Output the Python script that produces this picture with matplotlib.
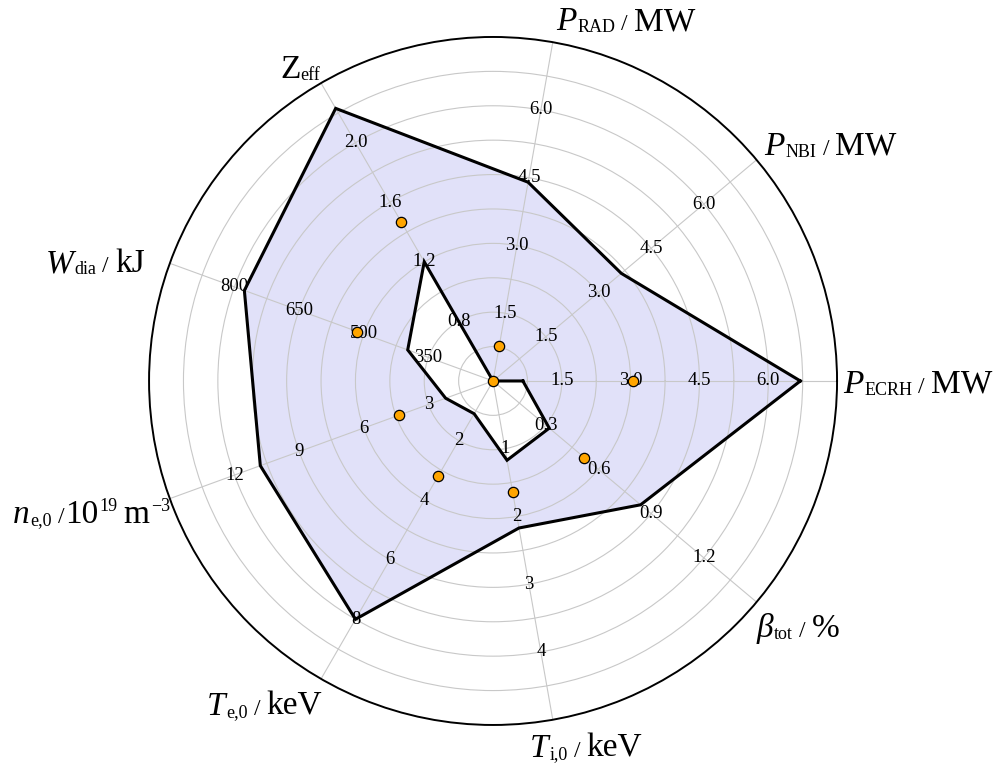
import numpy as np
import matplotlib
matplotlib.use('Agg')
import matplotlib.pyplot as plt
import matplotlib.transforms as mtransforms
from matplotlib.path import Path
from matplotlib.patches import PathPatch

plt.rcParams['font.family'] = ['Liberation Serif', 'DejaVu Serif']

# spoke titles, counter-clockwise starting on the right
# each part: text, italic?, kind (main / sub / sup / slash), gap before it
titles = [
    [('P', True, 'main', 0), ('ECRH', False, 'sub', 1), ('/', False, 'slash', 6), ('MW', False, 'main', 6)],
    [('P', True, 'main', 0), ('NBI', False, 'sub', 1), ('/', False, 'slash', 6), ('MW', False, 'main', 6)],
    [('P', True, 'main', 0), ('RAD', False, 'sub', 1), ('/', False, 'slash', 6), ('MW', False, 'main', 6)],
    [('Z', False, 'main', 0), ('eff', False, 'sub', 0)],
    [('W', True, 'main', 0), ('dia', False, 'sub', 1), ('/', False, 'slash', 6), ('kJ', False, 'main', 6)],
    [('n', True, 'main', 0), ('e,0', False, 'sub', 1), ('/', False, 'slash', 6), ('10', False, 'main', 1),
     ('19', False, 'sup', 1), ('m', False, 'main', 6), ('\u22123', False, 'sup', 1)],
    [('T', True, 'main', 0), ('e,0', False, 'sub', 1), ('/', False, 'slash', 6), ('keV', False, 'main', 6)],
    [('T', True, 'main', 0), ('i,0', False, 'sub', 1), ('/', False, 'slash', 6), ('keV', False, 'main', 6)],
    [('\u03b2', True, 'main', 0), ('tot', False, 'sub', 1), ('/', False, 'slash', 6), ('%', False, 'main', 6)],
]

# scale of every spoke (centre, rim)
lo = [0, 0, 0, 0.4, 200, 0, 0, 0, 0]
hi = [7.5, 7.5, 7.5, 2.4, 950, 15, 10, 5, 1.5]

ticks = [[1.5, 3.0, 4.5, 6.0],
         [1.5, 3.0, 4.5, 6.0],
         [1.5, 3.0, 4.5, 6.0],
         [0.8, 1.2, 1.6, 2.0],
         [350, 500, 650, 800],
         [3, 6, 9, 12],
         [2, 4, 6, 8],
         [1, 2, 3, 4],
         [0.3, 0.6, 0.9, 1.2]]
tick_fmt = ['{:.1f}', '{:.1f}', '{:.1f}', '{:.1f}', '{:.0f}',
            '{:.0f}', '{:.0f}', '{:.0f}', '{:.1f}']

# operating range: upper and lower envelope, plus reference shot
v_max = [6.7, 3.65, 4.4, 2.23, 777, 10.8, 8.0, 2.17, 0.84]
v_min = [0.65, 0.0, 0.0, 1.2, 398, 2.2, 1.1, 1.17, 0.32]
v_ref = [3.05, 0.0, 0.77, 1.47, 515, 4.35, 3.2, 1.64, 0.52]

# title placement: alignment and pixel offset (right, down) from the rim
title_pos = [('left', 6, 12), ('left', 8, -5), ('left', 3, -12),
             ('left', -41, -5), ('right', -25, 9), ('right', 0, 24),
             ('right', 1, 36), ('left', -23, 37), ('left', 0, 35)]

sizes = {'main': 24, 'sub': 13, 'sup': 13, 'slash': 17}
rises = {'main': 0, 'sub': -2, 'sup': 12, 'slash': 0}

R = 10.0
n = len(titles)
theta = np.deg2rad(np.arange(n) * 360.0 / n)


def scale(vals):
    vals = np.asarray(vals, dtype=float)
    return R * (vals - np.array(lo)) / (np.array(hi) - np.array(lo))


fig = plt.figure(figsize=(10.05, 7.67), dpi=100)
ax = fig.add_axes([0.1483, 0.0548, 0.6846, 0.897], projection='polar')
ax.set_ylim(0, R)
ax.set_rgrids(np.arange(1, 10), labels=[])
ax.set_thetagrids(np.degrees(theta), labels=[])
ax.tick_params(length=0)
ax.grid(color='#c8c8c8', lw=0.8)
ax.spines['polar'].set_color('black')
ax.spines['polar'].set_linewidth(1.4)

r_max = scale(v_max)
r_min = scale(v_min)
r_ref = scale(v_ref)

# shaded band between lower and upper envelope
outer = np.column_stack([np.r_[theta, theta[0]], np.r_[r_max, r_max[0]]])
inner = np.column_stack([np.r_[theta, theta[0]], np.r_[r_min, r_min[0]]])[::-1]
verts = np.vstack([outer, inner])
codes = ([Path.MOVETO] + [Path.LINETO] * (len(outer) - 2) + [Path.CLOSEPOLY]) * 2
band = PathPatch(Path(verts, codes), transform=ax.transData,
                 facecolor='#e1e1f9', edgecolor='none', zorder=1)
ax.add_patch(band)

for rr in (r_max, r_min):
    ax.plot(np.r_[theta, theta[0]], np.r_[rr, rr[0]], color='black', lw=2.2,
            solid_joinstyle='miter', zorder=3)

ax.scatter(theta, r_ref, s=55, facecolor='#ffa500', edgecolor='black',
           linewidth=0.9, zorder=4, clip_on=False)

# tick values along each spoke
for i in range(n):
    rt = R * (np.array(ticks[i]) - lo[i]) / (hi[i] - lo[i])
    for t, r in zip(ticks[i], rt):
        ax.text(theta[i], r, tick_fmt[i].format(t), ha='center', va='center',
                fontsize=13.5, zorder=2)

# titles built piece by piece so sub/superscripts stay small
fig.canvas.draw()
renderer = fig.canvas.get_renderer()
ident = mtransforms.IdentityTransform()
for i in range(n):
    x0, y0 = ax.transData.transform((theta[i], R))
    ha, dx, dy = title_pos[i]
    parts = []
    width = 0.0
    for s, it, kind, gap in titles[i]:
        t = fig.text(0, 0, s, transform=ident, fontsize=sizes[kind],
                     style='italic' if it else 'normal',
                     ha='left', va='baseline')
        w = t.get_window_extent(renderer).width
        width += gap
        parts.append((t, width, rises[kind]))
        width += w
    x_start = x0 + dx - (width if ha == 'right' else 0)
    base = y0 - dy
    for t, off, rise in parts:
        t.set_position((x_start + off, base + rise))

fig.savefig('out.png', dpi=100)
